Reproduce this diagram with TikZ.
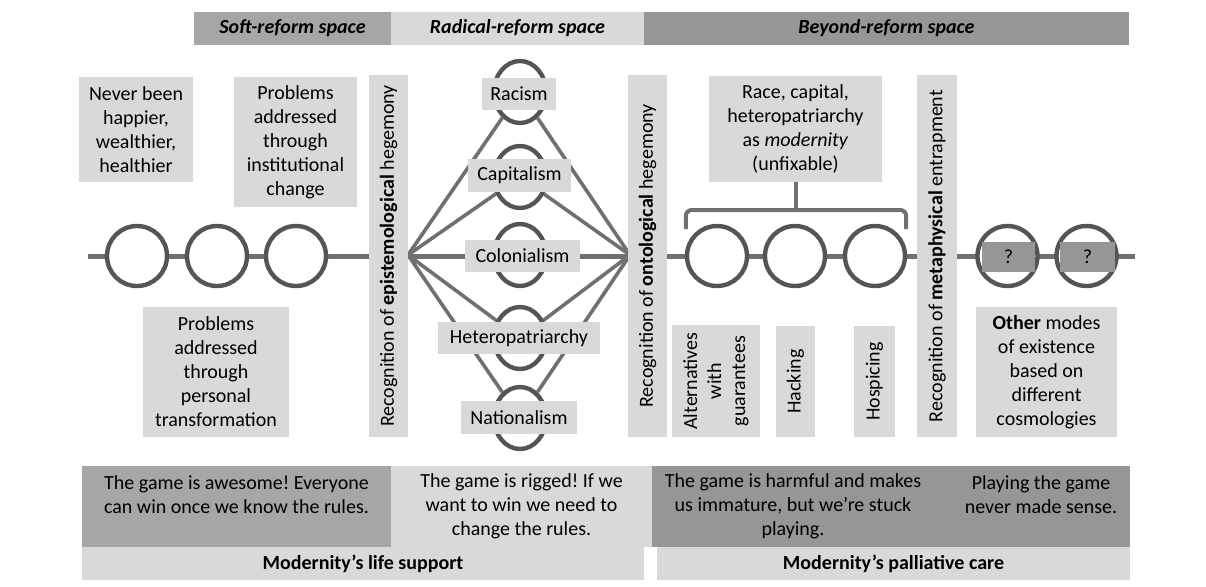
\documentclass[tikz,border=0pt]{standalone}
\usepackage{fontspec}
\setmainfont{Carlito}
\frenchspacing
\usetikzlibrary{calc,shapes.geometric}
\definecolor{lightbox}{HTML}{D9D9D9}
\definecolor{midbox}{HTML}{A6A6A6}
\definecolor{darkbox}{HTML}{969696}
\definecolor{ringgray}{HTML}{555555}
\definecolor{linegray}{HTML}{707070}
\tikzset{
  boxsize/.style 2 args={minimum width=#1*0.5pt, minimum height=#2*0.5pt},
  greybox/.style={fill=lightbox, inner sep=0pt, align=center},
  ringnode/.style={circle, draw=ringgray, line width=2.2pt, fill=white, minimum size=30pt, inner sep=0pt},
  ovalnode/.style={ellipse, draw=ringgray, line width=2.2pt, minimum width=26pt, minimum height=31pt, inner sep=0pt},
  fanline/.style={draw=linegray, line width=1.8pt},
  mainline/.style={draw=linegray, line width=2.5pt},
  bracket/.style={draw=linegray, line width=2pt, rounded corners=3pt},
}
\begin{document}
\begin{tikzpicture}[x=0.5pt,y=-0.5pt]
\useasboundingbox (0,0) rectangle (1206,586);
\node[greybox,fill=midbox,boxsize={197}{33},font=\bfseries\itshape] (hsoft) at (292.5,28.5) {Soft-reform space};
\node[greybox,boxsize={253}{33},font=\bfseries\itshape] (hrad) at (517.5,28.5) {Radical-reform space};
\node[greybox,fill=darkbox,boxsize={485}{33},font=\bfseries\itshape] (hbey) at (886.5,28.5) {Beyond-reform space};
\coordinate (lstart) at (88,256);
\coordinate (lend) at (1135,256);
\coordinate (apexL) at (408,255);
\coordinate (apexR) at (630,255);
\draw[mainline] (lstart) -- (lend);
\foreach \n/\x in {s1/137,s2/217,s3/296,b1/717,b2/795,b3/875,o1/1007.5,o2/1086.5}
  \node[ringnode] (\n) at (\x,256) {};
\foreach \n/\y in {rac/92,cap/177,col/255,het/338,nat/418}
  \node[ovalnode] (\n) at (520,\y) {};
\foreach \n in {rac,cap,het,nat}
  \draw[fanline] (apexL) -- (\n) (apexR) -- (\n);
\node[greybox,boxsize={74}{32}] (racb) at (519,94) {Racism};
\node[greybox,boxsize={103}{33}] (capb) at (519.5,175.5) {Capitalism};
\node[greybox,boxsize={115}{32}] (colb) at (522.5,256) {Colonialism};
\node[greybox,boxsize={162}{32}] (hetb) at (519,338) {Heteropatriarchy};
\node[greybox,boxsize={116}{33}] (natb) at (519,417.5) {Nationalism};
\node[greybox,fill=darkbox,boxsize={53}{30}] (q1) at (1008.5,257) {?};
\node[greybox,fill=darkbox,boxsize={55}{30}] (q2) at (1087.5,257) {?};
\node[greybox,rotate=90,boxsize={362}{39}] (epist) at (388.5,256) {Recognition of \textbf{epistemological} hegemony};
\node[greybox,rotate=90,boxsize={362}{39}] (onto) at (647.5,256) {Recognition of \textbf{ontological} hegemony};
\node[greybox,rotate=90,boxsize={362}{40}] (meta) at (937,256) {Recognition of \textbf{metaphysical} entrapment};
\node[greybox,boxsize={114}{105}] (never) at (136,129.5) {Never been\\happier,\\wealthier,\\healthier};
\node[greybox,boxsize={123}{130}] (instit) at (295.5,142) {Problems\\addressed\\through\\institutional\\change};
\node[greybox,boxsize={146}{130}] (personal) at (216,372) {Problems\\addressed\\through\\personal\\transformation};
\node[greybox,boxsize={173}{106}] (race) at (795.5,129) {Race, capital,\\heteropatriarchy\\as \textit{modernity}\\(unfixable)};
\node[greybox,rotate=90,boxsize={112}{88}] (alt) at (716,381) {Alternatives\\with\\guarantees};
\node[greybox,rotate=90,boxsize={111}{39}] (hack) at (795.5,381.5) {Hacking};
\node[greybox,rotate=90,boxsize={111}{41}] (hosp) at (874.5,381.5) {Hospicing};
\node[greybox,boxsize={141}{130}] (other) at (1046.5,372) {\textbf{Other} modes\\of existence\\based on\\different\\cosmologies};
\draw[bracket] ($(b1.west)+(1,-27)$) |- ($(b3.east)+(-1,-46)$) -- ($(b3.east)+(-1,-27)$);
\draw[bracket] (race.south) -- ++(0,28);
\node[greybox,fill=midbox,boxsize={309}{81}] (awesome) at (236.5,506.5) {The game is awesome! Everyone\\can win once we know the rules.\\~};
\node[greybox,boxsize={261}{81}] (rigged) at (521.5,506.5) {The game is rigged! If we\\want to win we need to\\change the rules.};
\node[greybox,fill=darkbox,boxsize={478}{81}] (harm) at (891,506.5) {};
\node[align=center,inner sep=0pt] (harmtxt) at (793,506.5) {The game is harmful and makes\\us immature, but we’re stuck\\playing.};
\node[align=center,inner sep=0pt] (playtxt) at (1041,506.5) {Playing the game\\never made sense.\\~};
\node[greybox,boxsize={562}{33},font=\bfseries] (life) at (363,563.5) {Modernity’s life support};
\node[greybox,boxsize={473}{33},font=\bfseries] (palliative) at (893.5,563.5) {Modernity’s palliative care};
\end{tikzpicture}
\end{document}
